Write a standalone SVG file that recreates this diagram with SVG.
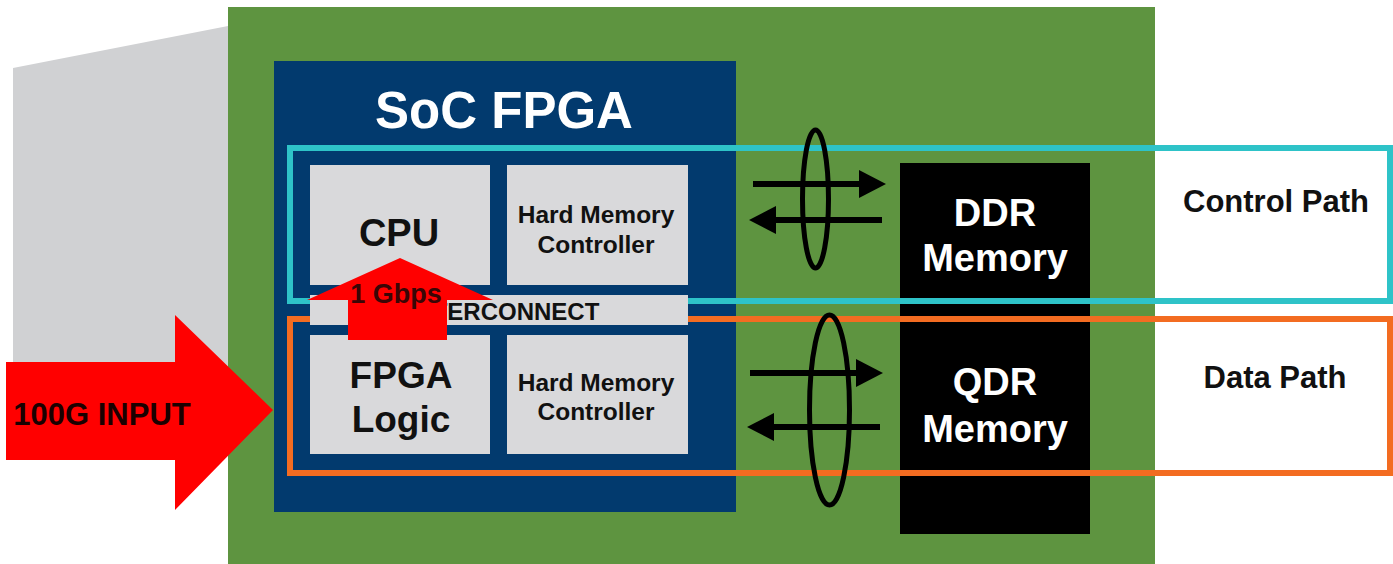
<svg xmlns="http://www.w3.org/2000/svg" width="1393" height="564" viewBox="0 0 1393 564">
  <style>
    .lbl { font-family: "Liberation Sans", Arial, sans-serif; font-weight: bold; text-anchor: middle; }
    .dark { fill: #111111; }
    .light { fill: #ffffff; }
    .block { fill: #d9d9db; }
    .bus { stroke: #000000; stroke-width: 6; fill: none; }
    .ring { stroke: #000000; stroke-width: 5; fill: none; }
  </style>
  <defs>
    <marker id="head" viewBox="0 0 27 28" markerWidth="27" markerHeight="28" refX="1" refY="14" orient="auto" markerUnits="userSpaceOnUse">
      <path d="M0,0 L27,14 L0,28 z" fill="#000000"/>
    </marker>
  </defs>

  <rect width="1393" height="564" fill="#ffffff"/>

  <!-- grey backdrop behind the board -->
  <polygon points="13,68 228,26 228,440 13,440" fill="#d0d1d3"/>

  <!-- board -->
  <g id="board">
    <rect x="228" y="7" width="927" height="560" fill="#5e9440"/>
  </g>

  <!-- SoC FPGA package -->
  <g id="soc-fpga">
    <rect x="274" y="61" width="462" height="451" fill="#023a6e"/>
    <text class="lbl light" x="504" y="128" font-size="51">SoC FPGA</text>
  </g>

  <g id="cpu">
    <rect class="block" x="310" y="165" width="180" height="120"/>
    <text class="lbl dark" x="399" y="246" font-size="38">CPU</text>
  </g>

  <g id="hmc-top">
    <rect class="block" x="507" y="165" width="181" height="120"/>
    <text class="lbl dark" x="596" y="223" font-size="24.5">Hard Memory</text>
    <text class="lbl dark" x="596" y="253" font-size="24.5">Controller</text>
  </g>

  <g id="fpga-logic">
    <rect class="block" x="310" y="335" width="180" height="119"/>
    <text class="lbl dark" x="401" y="388" font-size="37">FPGA</text>
    <text class="lbl dark" x="401" y="432" font-size="37">Logic</text>
  </g>

  <g id="hmc-bottom">
    <rect class="block" x="507" y="335" width="181" height="119"/>
    <text class="lbl dark" x="596" y="391" font-size="24.5">Hard Memory</text>
    <text class="lbl dark" x="596" y="420" font-size="24.5">Controller</text>
  </g>

  <!-- external memories -->
  <g id="memory">
    <rect x="900" y="163" width="190" height="371" fill="#000000"/>
  </g>

  <!-- path outlines -->
  <g id="control-path">
    <rect x="290" y="148" width="1100" height="153" fill="none" stroke="#2ec3c8" stroke-width="6"/>
  </g>
  <g id="data-path">
    <rect x="290" y="319" width="1100" height="154" fill="none" stroke="#f36c21" stroke-width="6"/>
  </g>

  <g id="interconnect">
    <rect class="block" x="310" y="295" width="378" height="30"/>
    <text class="lbl dark" x="504" y="320" font-size="24">INTERCONNECT</text>
  </g>

  <g id="memory-labels">
    <text class="lbl light" x="995" y="226" font-size="38">DDR</text>
    <text class="lbl light" x="995" y="271" font-size="38">Memory</text>
    <text class="lbl light" x="995" y="395" font-size="38">QDR</text>
    <text class="lbl light" x="995" y="442" font-size="38">Memory</text>
  </g>

  <g id="path-labels">
    <text class="lbl dark" x="1276" y="212" font-size="31">Control Path</text>
    <text class="lbl dark" x="1275" y="388" font-size="31">Data Path</text>
  </g>

  <!-- memory buses -->
  <g id="connectors">
    <line class="bus" x1="753" y1="184" x2="860" y2="184" marker-end="url(#head)"/>
    <line class="bus" x1="882" y1="220" x2="775" y2="220" marker-end="url(#head)"/>
    <ellipse class="ring" cx="815.5" cy="199" rx="13" ry="69"/>

    <line class="bus" x1="750" y1="373" x2="857" y2="373" marker-end="url(#head)"/>
    <line class="bus" x1="880" y1="427" x2="773" y2="427" marker-end="url(#head)"/>
    <ellipse class="ring" cx="829.5" cy="410" rx="20" ry="95"/>

    <!-- 1 Gbps uplink to the CPU -->
    <g id="uplink">
      <polygon points="400,258 493,300 447,300 447,340 348,340 348,300 307,300" fill="#ff0000"/>
      <text class="lbl" x="396" y="303" font-size="27" fill="#3a0606">1 Gbps</text>
    </g>

    <!-- 100G input -->
    <g id="input">
      <polygon points="6,362 175,362 175,315 273,410 175,510 175,460 6,460" fill="#ff0000"/>
      <text class="lbl" x="102" y="425" font-size="31" fill="#1a0000">100G INPUT</text>
    </g>
  </g>
</svg>
